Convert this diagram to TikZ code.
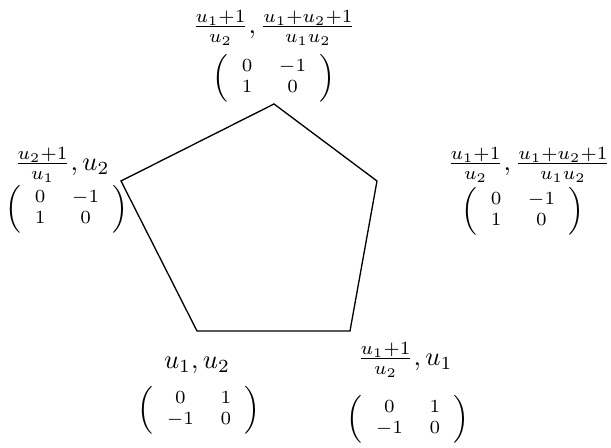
\documentclass[tikz,border=0pt]{standalone}
\begin{document}
\begin{tikzpicture}[x=0.377pt,y=-0.377pt,
  lab/.style={inner sep=0pt},
  mat/.style={inner sep=0pt,font=\scriptsize},
  edge/.style={draw=black,line width=0.5pt}]
\useasboundingbox (0,0) rectangle (611,448);
\coordinate (vT) at (274,104);
\coordinate (vR) at (377,181);
\coordinate (vBR) at (350,331);
\coordinate (vBL) at (197,331);
\coordinate (vL) at (121,181);
\draw[edge] (vT) -- (vR) -- (vBR) -- (vBL) -- (vL) -- cycle;
\newcommand{\matA}{$\left(\begin{array}{cc} 0 & -1\\ 1 & 0\end{array}\right)$}
\newcommand{\matB}{$\left(\begin{array}{cc} 0 & 1\\ -1 & 0\end{array}\right)$}
\node[lab] (lT) at (274,28) {$\frac{u_1+1}{u_2},\frac{u_1+u_2+1}{u_1u_2}$};
\node[mat] (mT) at (274,78) {\matA};
\node[lab] (lL) at (62,165) {$\frac{u_2+1}{u_1},u_2$};
\node[mat] (mL) at (67,209) {\matA};
\node[lab] (lR) at (529,165) {$\frac{u_1+1}{u_2},\frac{u_1+u_2+1}{u_1u_2}$};
\node[mat] (mR) at (523,211) {\matA};
\node[lab] (lBL) at (197,365) {$u_1,u_2$};
\node[mat] (mBL) at (199,410) {\matB};
\node[lab] (lBR) at (405,360) {$\frac{u_1+1}{u_2},u_1$};
\node[mat] (mBR) at (408,419) {\matB};
\end{tikzpicture}
\end{document}
